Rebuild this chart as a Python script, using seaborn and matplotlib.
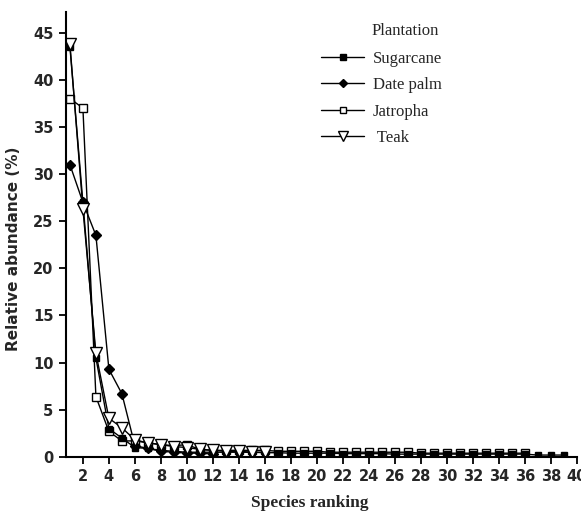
import numpy as np
import pandas as pd
import seaborn as sns
import matplotlib.pyplot as plt
from matplotlib.lines import Line2D

# relative abundance (%) by species rank
sugarcane = [43.5, 27.0, 10.5, 3.0, 2.0, 1.0, 0.9, 0.7, 0.6, 0.5,
             0.5, 0.5, 0.5, 0.5, 0.5, 0.45, 0.45, 0.4, 0.4, 0.4,
             0.4, 0.35, 0.35, 0.35, 0.35, 0.3, 0.3, 0.3, 0.3, 0.3,
             0.3, 0.3, 0.3, 0.3, 0.3, 0.3, 0.2, 0.2, 0.2]
date_palm = [31.0, 27.0, 23.5, 9.3, 6.7, 1.2, 0.9, 0.6, 0.5, 0.4,
             0.4, 0.3]
jatropha = [38.0, 37.0, 6.4, 2.7, 1.7, 1.7, 1.5, 1.3, 1.2, 1.3,
            0.8, 0.7, 0.7, 0.7, 0.7, 0.7, 0.6, 0.6, 0.6, 0.6,
            0.5, 0.5, 0.5, 0.5, 0.5, 0.5, 0.5, 0.4, 0.4, 0.4,
            0.4, 0.4, 0.4, 0.4, 0.4, 0.4]
teak = [43.8, 26.3, 11.0, 4.1, 3.1, 1.8, 1.5, 1.3, 1.1, 1.0,
        0.8, 0.7, 0.6, 0.6, 0.5, 0.5]

series = {"Sugarcane": sugarcane, "Date palm": date_palm,
          "Jatropha": jatropha, "Teak": teak}
legend_labels = ["Sugarcane", "Date palm", "Jatropha", " Teak"]
styles = {"Sugarcane": dict(marker='s', mfc='black', ms=5),
          "Date palm": dict(marker='D', mfc='black', ms=5),
          "Jatropha": dict(marker='s', mfc='white', ms=6),
          "Teak": dict(marker='v', mfc='white', ms=8)}

rows = []
for name, vals in series.items():
    for i, v in enumerate(vals):
        rows.append((name, i + 1, v))
df = pd.DataFrame(rows, columns=['Plantation', 'rank', 'abundance'])

sns.set_style('ticks')
plt.rcParams['font.family'] = ['DejaVu Sans']
serif = ['Liberation Serif', 'DejaVu Serif']

fig = plt.figure(figsize=(5.81, 5.14), dpi=100)
ax = fig.add_axes([0.1136, 0.111, 0.993 - 0.1136, 0.977 - 0.111])

for name in ["Jatropha", "Date palm", "Sugarcane", "Teak"]:
    st = styles[name]
    sub = df[df['Plantation'] == name]
    sns.lineplot(data=sub, x='rank', y='abundance', ax=ax, color='black',
                 linewidth=1.0, marker=st['marker'], markersize=st['ms'],
                 markerfacecolor=st['mfc'], markeredgecolor='black',
                 markeredgewidth=1.0, legend=False)

ax.set_xlim(0.7, 40)
ax.set_ylim(0, 47.2)
ax.set_xticks(np.arange(2, 41, 2))
ax.set_yticks(np.arange(0, 46, 5))
for lab in ax.get_xticklabels() + ax.get_yticklabels():
    lab.set_fontweight('bold')
    lab.set_fontsize(10.5)
ax.tick_params(axis='both', direction='out', length=5, width=1.3, color='black', pad=4)
sns.despine(ax=ax)
for s in ['left', 'bottom']:
    ax.spines[s].set_linewidth(1.5)
    ax.spines[s].set_color('black')

ax.set_xlabel('Species ranking', fontsize=12.5, fontweight='bold', family=serif)
ax.xaxis.set_label_coords(0.478, -0.085)
ax.set_ylabel('Relative abundance (%)', fontsize=11, fontweight='bold')
ax.yaxis.set_label_coords(-0.088, 0.467)

handles = []
for name in series:
    st = styles[name]
    handles.append(Line2D([], [], color='black', lw=1.0, marker=st['marker'],
                          ms=st['ms'] - 1, mfc=st['mfc'], mec='black'))
ax.legend(handles, legend_labels, loc='upper left',
          bbox_to_anchor=(306 / 581, 1 - 36 / 514),
          bbox_transform=fig.transFigure, frameon=False,
          prop={'family': serif, 'size': 12},
          handlelength=2.6, labelspacing=0.62, handletextpad=0.5)
fig.text(405 / 581, 1 - 31 / 514, 'Plantation', ha='center', va='center',
         family=serif, fontsize=12)

fig.savefig('out.png', dpi=100)
